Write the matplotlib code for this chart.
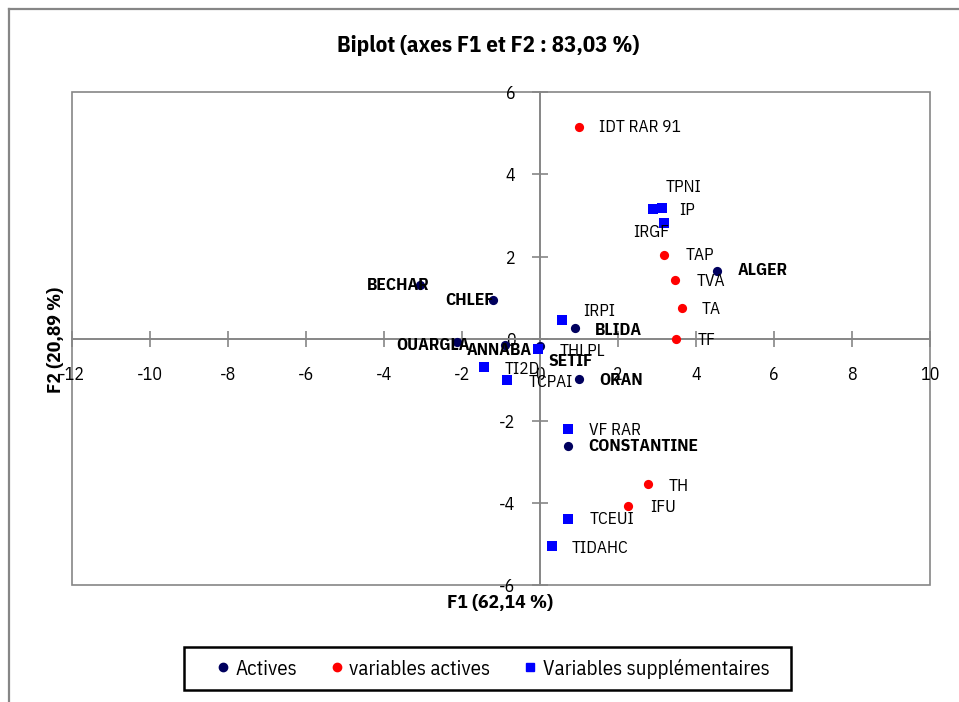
import matplotlib
matplotlib.use("Agg")
import matplotlib.pyplot as plt
from matplotlib import font_manager
from matplotlib.lines import Line2D
from matplotlib.patches import Rectangle

names = {f.name for f in font_manager.fontManager.ttflist}
FONT = "Liberation Sans"
for cand in ["IBM Plex Sans Condensed", "Roboto Condensed", "Archivo Narrow", "PT Sans Narrow"]:
    if cand in names:
        FONT = cand
        break
plt.rcParams['font.family'] = [FONT, 'DejaVu Sans']

# ---- data ----
act_names = ["BECHAR", "CHLEF", "OUARGLA", "ANNABA", "SETIF", "BLIDA", "ORAN", "ALGER", "CONSTANTINE"]
act_x = [-3.08, -1.21, -2.13, -0.89, 0.00, 0.90, 1.00, 4.53, 0.73]
act_y = [1.30, 0.94, -0.08, -0.16, -0.18, 0.25, -0.98, 1.65, -2.61]

var_names = ["IDT RAR 91", "TAP", "TVA", "TA", "TF", "TH", "IFU"]
var_x = [1.01, 3.19, 3.46, 3.64, 3.48, 2.78, 2.25]
var_y = [5.15, 2.03, 1.42, 0.75, -0.01, -3.55, -4.08]

sup_names = ["TPNI", "IP", "IRGF", "IRPI", "THLPL", "TI2D", "TCPAI", "VF RAR", "TCEUI", "TIDAHC"]
sup_x = [2.91, 3.12, 3.18, 0.56, -0.06, -1.43, -0.85, 0.71, 0.71, 0.30]
sup_y = [3.15, 3.18, 2.82, 0.46, -0.26, -0.70, -1.01, -2.20, -4.39, -5.05]

xticks = [-12, -10, -8, -6, -4, -2, 0, 2, 4, 6, 8, 10]
yticks = [-6, -4, -2, 0, 2, 4, 6]

legend_labels = ["Actives", "variables actives", "Variables supplémentaires"]

# ---- label offsets (pixels) ----
act_off = [(-53, 0), (-47, 0), (-61, -4), (-38, -5), (9, -15), (20, -2), (20, -2), (21, 0), (20, -1)]
var_off = [(20, 0), (21, 0), (22, -1), (20, -1), (22, -1), (20, -2), (22, -1)]
sup_off = [(12, 22), (18, -2), (-31, -9), (21, 9), (22, -2), (21, -2), (22, -2), (21, -1), (22, 0), (20, -2)]

W, H = 959, 702
fig = plt.figure(figsize=(W / 100, H / 100), dpi=100)
GRAY = "#868686"

# outer frame (left and top visible)
fig.add_artist(Line2D([8.5 / W, 8.5 / W], [0, 1 - 8.5 / H], transform=fig.transFigure, color=GRAY, lw=1.6))
fig.add_artist(Line2D([8.5 / W, 1], [1 - 8.5 / H, 1 - 8.5 / H], transform=fig.transFigure, color=GRAY, lw=1.6))

L, R, T, B = 71.7, 930, 92.3, 585
ax = fig.add_axes([L / W, 1 - B / H, (R - L) / W, (B - T) / H])
ax.set_xlim(-12, 10)
ax.set_ylim(-6, 6)

for s in ["top", "right"]:
    ax.spines[s].set_visible(False)
ax.spines["left"].set_position(("data", 0))
ax.spines["bottom"].set_position(("data", 0))
for s in ["left", "bottom"]:
    ax.spines[s].set_color(GRAY)
    ax.spines[s].set_linewidth(1.4)
# plot-area box
ax.add_patch(Rectangle((0, 0), 1, 1, transform=ax.transAxes, fill=False,
                       edgecolor=GRAY, lw=1.2, clip_on=False, zorder=0.5))

ax.set_xticks(xticks)
ax.set_yticks(yticks)
ax.set_xticklabels([str(v) for v in xticks])
ax.set_yticklabels([str(v) for v in yticks])
ax.tick_params(axis="x", direction="inout", length=11, width=1.2, color=GRAY,
               labelsize=13, pad=14)
ax.tick_params(axis="y", direction="inout", length=11, width=1.2, color=GRAY,
               labelsize=13, pad=12)

NAVY = "#00005E"
RED = "#FF0000"
BLUE = "#0000FF"
ax.scatter(act_x, act_y, s=44, color=NAVY, marker="o", zorder=3, linewidths=0)
ax.scatter(var_x, var_y, s=44, color=RED, marker="o", zorder=3, linewidths=0)
ax.scatter(sup_x, sup_y, s=50, color=BLUE, marker="s", zorder=3, linewidths=0)

FS = 12.5
for n, x, y, o in zip(act_names, act_x, act_y, act_off):
    ax.annotate(n, (x, y), xytext=o, textcoords="offset pixels", ha="left", va="center",
                fontsize=FS, fontweight="bold", zorder=4)
for n, x, y, o in zip(var_names, var_x, var_y, var_off):
    ax.annotate(n, (x, y), xytext=o, textcoords="offset pixels", ha="left", va="center",
                fontsize=FS, zorder=4)
for n, x, y, o in zip(sup_names, sup_x, sup_y, sup_off):
    ax.annotate(n, (x, y), xytext=o, textcoords="offset pixels", ha="left", va="center",
                fontsize=FS, zorder=4)

fig.text(488 / W, 1 - 45 / H, "Biplot (axes F1 et F2 : 83,03 %)", ha="center", va="center",
         fontsize=16.5, fontweight="bold")
fig.text(500 / W, 1 - 603 / H, "F1 (62,14 %)", ha="center", va="center",
         fontsize=14, fontweight="bold")
fig.text(56 / W, 1 - 340 / H, "F2 (20,89 %)", ha="center", va="center", rotation=90,
         fontsize=14, fontweight="bold", zorder=5)

# legend frame
fig.add_artist(Rectangle((184 / W, 1 - 690 / H), (791 - 184) / W, (690 - 647) / H,
                         transform=fig.transFigure, fill=False, edgecolor="black", lw=1.8))
handles = [
    Line2D([], [], marker="o", color=NAVY, ls="", markersize=6),
    Line2D([], [], marker="o", color=RED, ls="", markersize=6),
    Line2D([], [], marker="s", color=BLUE, ls="", markersize=6),
]
leg = fig.legend(handles, legend_labels,
                 loc="center left", bbox_to_anchor=(216.5 / W, 1 - 668.5 / H), ncol=3,
                 fontsize=15, frameon=False, handlelength=0.6,
                 handletextpad=0.31, columnspacing=1.6, borderpad=0, borderaxespad=0)

fig.savefig("out.png", dpi=100)
